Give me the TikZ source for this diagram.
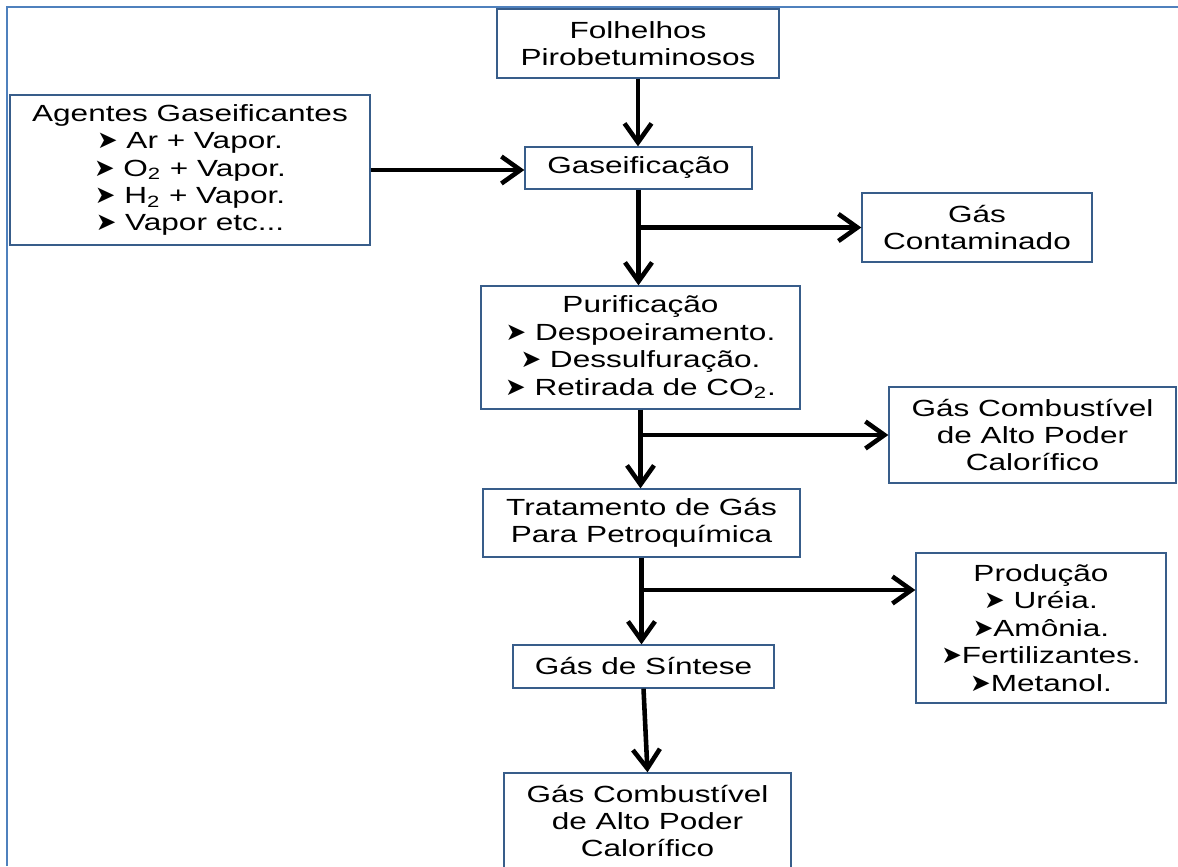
\documentclass[tikz,border=0pt]{standalone}
\usepackage{fontspec}
\setmainfont[FakeStretch=1.35]{Liberation Sans}
\newfontfamily\dingfont{DejaVu Sans}
\usepackage{tikz}
\usetikzlibrary{arrows.meta, positioning}
\definecolor{boxblue}{RGB}{56,93,138}
\definecolor{pageblue}{RGB}{79,129,189}
\newcommand{\pointer}{{\dingfont\fontsize{14}{14}\selectfont ➤}}

\begin{document}
\begin{tikzpicture}[x=2cm, y=2cm, font=\fontsize{13.3}{15.6}\selectfont]
            % Define block styles
            \tikzstyle{block} = [draw=boxblue, line width=0.75pt, rectangle, align=center, inner sep=1pt]
            \tikzstyle{flow} = [black, line width=2.6pt, -{Straight Barb[length=0.38cm, width=0.54cm]}]
            \tikzstyle{frame} = [pageblue, line width=1.2pt]

            \clip (0,0) rectangle (11.78,-8.66);
            \draw[frame] (0.07,-8.66) -- (0.07,-0.07) -- (11.78,-0.07);

            % Nodes
            \node[block, minimum width=5.64cm, minimum height=1.38cm] at (6.38,-0.435) (folh) {Folhelhos\\Pirobetuminosos};
            \node[block, minimum width=7.2cm, minimum height=3.0cm] at (1.90,-1.70) (agentes) {Agentes Gaseificantes\\\pointer\ Ar + Vapor.\\\pointer\ O\textsubscript{2} + Vapor.\\\pointer\ H\textsubscript{2} + Vapor.\\\pointer\ Vapor etc...};
            \node[block, minimum width=4.54cm, minimum height=0.84cm] at (6.385,-1.68) (gaseif) {Gaseificação};
            \node[block, minimum width=4.6cm, minimum height=1.38cm] at (9.77,-2.275) (contam) {Gás\\Contaminado};
            \node[block, minimum width=6.38cm, minimum height=2.46cm] at (6.405,-3.475) (purif) {Purificação\\\pointer\ Despoeiramento.\\\pointer\ Dessulfuração.\\\pointer\ Retirada de CO\textsubscript{2}.};
            \node[block, minimum width=5.74cm, minimum height=1.92cm] at (10.325,-4.35) (comb1) {Gás Combustível\\de Alto Poder\\Calorífico};
            \node[block, minimum width=6.34cm, minimum height=1.36cm] at (6.415,-5.23) (trat) {Tratamento de Gás\\Para Petroquímica};
            \node[block, minimum width=5.0cm, minimum height=3.0cm] at (10.41,-6.28) (prod) {Produção\\\pointer\ Uréia.\\\pointer Amônia.\\\pointer Fertilizantes.\\\pointer Metanol.};
            \node[block, minimum width=5.22cm, minimum height=0.86cm] at (6.435,-6.665) (sint) {Gás de Síntese};
            \node[block, minimum width=5.74cm, minimum height=1.92cm] at (6.475,-8.21) (comb2) {Gás Combustível\\de Alto Poder\\Calorífico};

            \coordinate (j3) at (6.415,-5.90);

            \draw[flow] (folh.south) -- (folh.south |- gaseif.north);
            \draw[flow] (agentes.east) -- (agentes.east -| gaseif.west);
            \draw[flow] (gaseif.south) -- (gaseif.south |- purif.north);
            \draw[flow] (gaseif.south |- contam.west) -- (contam.west);
            \draw[flow] (purif.south) -- (purif.south |- trat.north);
            \draw[flow] (purif.south |- comb1.west) -- (comb1.west);
            \draw[flow] (trat.south) -- (trat.south |- sint.north);
            \draw[flow] (j3) -- (j3 -| prod.west);
            \draw[flow] (sint.south) -- (comb2.north);
        \end{tikzpicture}
\end{document}
